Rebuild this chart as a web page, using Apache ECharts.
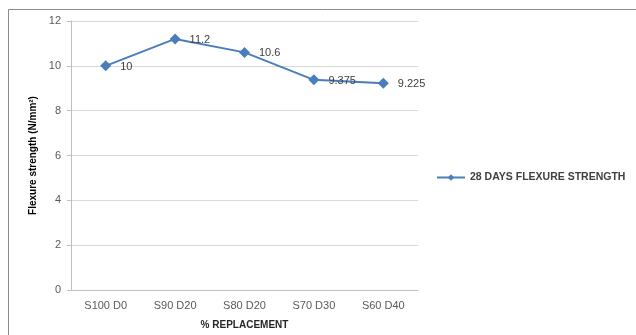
<!DOCTYPE html>
<html>
<head>
<meta charset="utf-8">
<script src="https://cdn.jsdelivr.net/npm/echarts@6/dist/echarts.min.js"></script>
<style>
html,body{margin:0;padding:0;background:#fff;}
#chart{width:636px;height:335px;}
</style>
</head>
<body>
<div id="chart"></div>
<script>
const categories = ['S100 D0', 'S90 D20', 'S80 D20', 'S70 D30', 'S60 D40'];
const flexure28 = [10, 11.2, 10.6, 9.375, 9.225];
const seriesName = '28 DAYS FLEXURE STRENGTH';
const yTicks = { min: 0, max: 12, interval: 2 };

const chart = echarts.init(document.getElementById('chart'));
const blue = '#4a7ebb';
const font = '"Liberation Sans", Arial, sans-serif';

chart.setOption({
  animation: false,
  backgroundColor: '#fff',
  // outer chart-area frame (top and left edges fall inside the canvas)
  graphic: [{
    type: 'rect',
    shape: { x: 8.5, y: 9.5, width: 700, height: 400 },
    style: { fill: 'none', stroke: '#8c8c8c', lineWidth: 1 },
    silent: true
  }],
  grid: { left: 71, right: 218, top: 21, bottom: 42 },
  legend: {
    data: [seriesName],
    left: 431,
    top: 167,
    itemWidth: 28,
    itemHeight: 8,
    itemGap: 3,
    textStyle: { fontFamily: font, fontSize: 10.5, color: '#404040', fontWeight: 'bold' }
  },
  xAxis: {
    type: 'category',
    data: categories,
    boundaryGap: true,
    name: '% REPLACEMENT',
    nameLocation: 'middle',
    nameGap: 30,
    nameTextStyle: { fontFamily: font, fontSize: 10, fontWeight: 'bold', color: '#262626' },
    axisLine: { lineStyle: { color: '#bfbfbf', width: 1 } },
    axisTick: { show: false },
    axisLabel: { fontFamily: font, fontSize: 11, color: '#595959', margin: 10 }
  },
  yAxis: {
    type: 'value',
    min: yTicks.min,
    max: yTicks.max,
    interval: yTicks.interval,
    name: 'Flexure strength (N/mm²)',
    nameLocation: 'middle',
    nameGap: 33,
    nameTextStyle: { fontFamily: font, fontSize: 10, fontWeight: 'bold', color: '#000' },
    axisLine: { show: true, lineStyle: { color: '#bfbfbf', width: 1 } },
    axisTick: { show: true, length: 4, lineStyle: { color: '#bfbfbf' } },
    axisLabel: { fontFamily: font, fontSize: 11, color: '#595959', margin: 10 },
    splitLine: { lineStyle: { color: '#d9d9d9', width: 1 } }
  },
  series: [{
    name: seriesName,
    type: 'line',
    data: flexure28,
    color: blue,
    symbol: 'diamond',
    symbolSize: 11,
    lineStyle: { color: blue, width: 2 },
    itemStyle: { color: blue },
    label: {
      show: true,
      position: 'right',
      distance: 9,
      fontFamily: font,
      fontSize: 11,
      color: '#404040',
      offset: [0, 1]
    }
  }]
});
</script>
</body>
</html>
